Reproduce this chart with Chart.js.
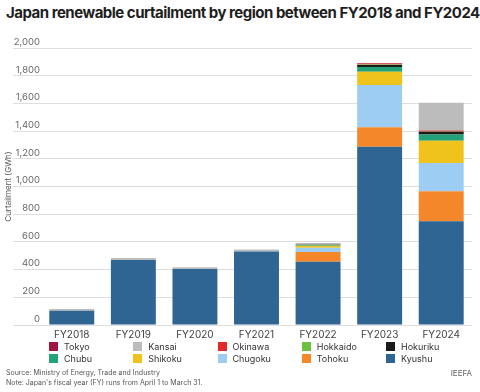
<!DOCTYPE html>
<html>
<head>
<meta charset="utf-8">
<script src="https://cdn.jsdelivr.net/npm/chart.js@4"></script>
<style>
  body { margin: 0; background: #fff; font-family: Inter, "Noto Sans", sans-serif; }
  #wrap { position: relative; width: 480px; height: 392px; overflow: hidden; }
  h1 { position: absolute; left: 6px; top: 3px; margin: 0; font-size: 15px; font-weight: 700;
       letter-spacing: -0.5px; color: #1e1e1e; white-space: nowrap; }
  #box { position: absolute; left: 0; top: 28px; width: 480px; height: 320px; }
  #legend { position: absolute; left: 49px; top: 340px; display: grid;
            grid-template-columns: repeat(5, 84.25px); grid-auto-rows: 12px; }
  #legend div { display: flex; align-items: center; font-size: 9px; color: #333; white-space: nowrap; }
  #legend span { display: inline-block; width: 9px; height: 9px; margin-right: 6px; }
  #foot { position: absolute; left: 6px; top: 368px; font-size: 7px; line-height: 10px; color: #555; }
  #brand { position: absolute; right: 8px; top: 368px; font-size: 8px; line-height: 10px; color: #666; }
</style>
</head>
<body>
<div id="wrap">
  <h1>Japan renewable curtailment by region between FY2018 and FY2024</h1>
  <div id="box"><canvas id="chart"></canvas></div>
  <div id="legend"></div>
  <div id="foot">Source: Ministry of Energy, Trade and Industry<br>Note: Japan's fiscal year (FY) runs from April 1 to March 31.</div>
  <div id="brand">IEEFA</div>
</div>
<script>
// GWh per region, stacked bottom to top
const years = ["FY2018", "FY2019", "FY2020", "FY2021", "FY2022", "FY2023", "FY2024"];
const kyushu   = [103, 470, 405, 530, 457, 1287, 750];
const tohoku   = [0, 0, 0, 0, 70, 140, 215];
const chugoku  = [0, 0, 0, 0, 31, 306, 205];
const shikoku  = [0, 0, 0, 0, 15, 96, 160];
const chubu    = [0, 0, 0, 0, 4, 34, 45];
const hokuriku = [0, 0, 0, 0, 2, 14, 20];
const hokkaido = [0, 0, 0, 0, 3, 3, 2];
const okinawa  = [0, 0, 0, 0, 0, 8, 8];
const kansai   = [12, 13, 12, 16, 10, 0, 200];
const tokyo    = [0, 0, 0, 0, 0, 4, 0];

const regions = [
  ["Kyushu", kyushu, "#2f6593"],
  ["Tohoku", tohoku, "#f5872b"],
  ["Chugoku", chugoku, "#9dcdf3"],
  ["Shikoku", shikoku, "#efc31b"],
  ["Chubu", chubu, "#24a277"],
  ["Hokuriku", hokuriku, "#1b1b1b"],
  ["Hokkaido", hokkaido, "#6cc140"],
  ["Okinawa", okinawa, "#e2282b"],
  ["Kansai", kansai, "#bcbcbc"],
  ["Tokyo", tokyo, "#a1173f"]
];

const datasets = regions.map(r => ({
  label: r[0],
  data: r[1],
  backgroundColor: r[2],
  borderWidth: 0,
  categoryPercentage: 1,
  barPercentage: 0.73
}));

// legend in 5 columns, reversed order like the original
const leg = document.getElementById("legend");
regions.slice().reverse().forEach(r => {
  const d = document.createElement("div");
  d.innerHTML = '<span style="background:' + r[2] + '"></span>' + r[0];
  leg.appendChild(d);
});

new Chart(document.getElementById("chart"), {
  type: "bar",
  data: { labels: years, datasets: datasets },
  options: {
    responsive: true,
    maintainAspectRatio: false,
    animation: false,
    layout: { padding: { left: 0, right: 8, top: 20, bottom: 3 } },
    plugins: { legend: { display: false }, tooltip: { enabled: false } },
    scales: {
      x: {
        stacked: true,
        grid: { display: false, drawTicks: false },
        border: { display: false },
        ticks: { color: "#444", font: { family: "Inter", size: 10 }, padding: 4 }
      },
      y: {
        stacked: true,
        min: 0,
        max: 2000,
        afterFit: s => { s.width = 41; },
        grid: { color: "#dedede", tickLength: 28, tickColor: "#dedede" },
        border: { display: false },
        ticks: {
          stepSize: 200,
          color: "#666",
          font: { family: "Inter", size: 9.5 },
          padding: -27,
          labelOffset: -6
        },
        title: {
          display: true,
          text: "Curtailment (GWh)",
          color: "#555",
          font: { family: "Inter", size: 8 },
          padding: { top: 4, bottom: 0 }
        }
      }
    }
  }
});
</script>
</body>
</html>
